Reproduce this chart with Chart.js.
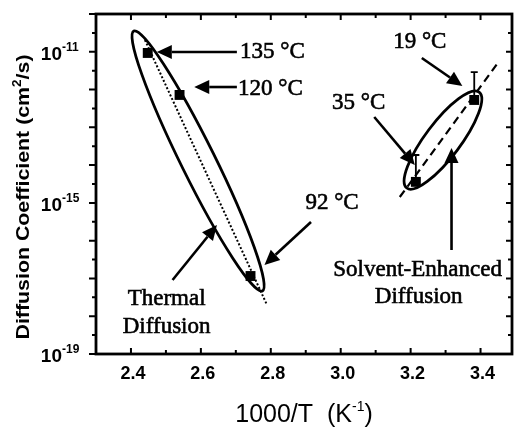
<!DOCTYPE html>
<html>
<head>
<meta charset="utf-8">
<script src="https://cdn.jsdelivr.net/npm/chart.js@4.4.1/dist/chart.umd.min.js"></script>
<style>
    html, body { margin: 0; padding: 0; background: #ffffff; }
    #wrap { width: 519px; height: 427px; }
</style>
</head>
<body>
<div id="wrap"><canvas id="diffChart" width="519" height="427"></canvas></div>
<script>
// x axis ticks (1000/T, K^-1) and y decades (log10 of D)
var xTicks = [2.4, 2.6, 2.8, 3.0, 3.2, 3.4];
var xMinorTicks = [2.3, 2.5, 2.7, 2.9, 3.1, 3.3];
var yDecades = [-19, -18, -17, -16, -15, -14, -13, -12, -11, -10];
var yLabelled = [-19, -15, -11];

// thermal diffusion points (135, 120, 92 °C)
var thermalX = [2.448, 2.539, 2.742];
var thermalD = [9.3e-12, 7.2e-13, 1.16e-17];

// solvent-enhanced points (35, 19 °C) and top of their error bars
var solventX = [3.215, 3.382];
var solventD = [3.6e-15, 5.3e-13];
var solventErrTop = [1.85e-14, 2.9e-12];

// fitted lines
var thermalFitX = [2.440, 2.788];
var thermalFitD = [2.05e-11, 2.1e-18];
var solventFitX = [3.169, 3.449];
var solventFitD = [1.43e-15, 5.0e-12];

(function () {
    'use strict';

    var BLACK = '#000000';
    var SERIF = "'Liberation Serif', 'Times New Roman', serif";
    var SANS = "'Liberation Sans', Arial, sans-serif";

    // annotation geometry in data units: [x, log10(D)]
    var ellipses = [
        { from: [2.408, -10.45], to: [2.776, -17.33], half: 17 },
        { from: [3.189, -14.606], to: [3.396, -12.065], half: 17.5 }
    ];
    var arrows = [
        { from: [2.703, -11.006], to: [2.474, -11.006] },
        { from: [2.703, -11.933], to: [2.581, -11.933] },
        { from: [2.915, -15.506], to: [2.782, -16.644] },
        { from: [3.096, -12.727], to: [3.212, -13.997] },
        { from: [3.232, -11.165], to: [3.348, -11.906] },
        { from: [2.519, -17.041], to: [2.646, -15.586] },
        { from: [3.317, -16.247], to: [3.317, -13.547] }
    ];
    var labels = [
        { text: '135 °C', at: [2.712, -11.0], align: 'left' },
        { text: '120 °C', at: [2.706, -11.986], align: 'left' },
        { text: '92 °C', at: [2.899, -15.003], align: 'left' },
        { text: '35 °C', at: [2.975, -12.356], align: 'left' },
        { text: '19 °C', at: [3.150, -10.742], align: 'left' },
        { text: 'Thermal', at: [2.502, -17.544], align: 'center' },
        { text: 'Diffusion', at: [2.502, -18.285], align: 'center' },
        { text: 'Solvent-Enhanced', at: [3.220, -16.777], align: 'center' },
        { text: 'Diffusion', at: [3.223, -17.491], align: 'center' }
    ];

    function toPoints(xs, ys) {
        return xs.map(function (x, i) { return { x: x, y: ys[i] }; });
    }

    function drawRich(ctx, parts, x, y, align) {
        var total = 0;
        parts.forEach(function (p) {
            ctx.font = p.font;
            p.w = ctx.measureText(p.t).width;
            total += p.w;
        });
        var cx = align === 'center' ? x - total / 2 : (align === 'right' ? x - total : x);
        ctx.textAlign = 'left';
        ctx.textBaseline = 'alphabetic';
        parts.forEach(function (p) {
            ctx.font = p.font;
            ctx.fillText(p.t, cx, y + (p.dy || 0));
            cx += p.w;
        });
        return total;
    }

    function arrow(ctx, a, b) {
        var ang = Math.atan2(b[1] - a[1], b[0] - a[0]);
        var len = 15, hw = 7;
        var bx = b[0] - Math.cos(ang) * len, by = b[1] - Math.sin(ang) * len;
        ctx.beginPath();
        ctx.moveTo(a[0], a[1]);
        ctx.lineTo(bx, by);
        ctx.stroke();
        ctx.beginPath();
        ctx.moveTo(b[0], b[1]);
        ctx.lineTo(bx + Math.sin(ang) * hw, by - Math.cos(ang) * hw);
        ctx.lineTo(bx - Math.sin(ang) * hw, by + Math.cos(ang) * hw);
        ctx.closePath();
        ctx.fill();
    }

    var annot = {
        id: 'annot',
        beforeDatasetsDraw: function (chart) {
            var ctx = chart.ctx, xs = chart.scales.x, ys = chart.scales.y;
            function P(v) { return [xs.getPixelForValue(v[0]), ys.getPixelForValue(Math.pow(10, v[1]))]; }

            ctx.save();
            ctx.strokeStyle = BLACK;
            ctx.lineWidth = 2.8;
            ellipses.forEach(function (e) {
                var a = P(e.from), b = P(e.to);
                var cx = (a[0] + b[0]) / 2, cy = (a[1] + b[1]) / 2;
                var r = Math.hypot(b[0] - a[0], b[1] - a[1]) / 2;
                ctx.beginPath();
                ctx.ellipse(cx, cy, r, e.half, Math.atan2(b[1] - a[1], b[0] - a[0]), 0, Math.PI * 2);
                ctx.stroke();
            });

            // upper error bars on solvent points
            ctx.lineWidth = 1.8;
            solventX.forEach(function (x, i) {
                var px = xs.getPixelForValue(x);
                var y0 = ys.getPixelForValue(solventD[i]);
                var y1 = ys.getPixelForValue(solventErrTop[i]);
                ctx.beginPath();
                ctx.moveTo(px, y0);
                ctx.lineTo(px, y1);
                ctx.moveTo(px - 3.5, y1);
                ctx.lineTo(px + 3.5, y1);
                ctx.stroke();
            });
            ctx.restore();
        },
        afterDraw: function (chart) {
            var ctx = chart.ctx, xs = chart.scales.x, ys = chart.scales.y;
            var area = chart.chartArea;
            function P(v) { return [xs.getPixelForValue(v[0]), ys.getPixelForValue(Math.pow(10, v[1]))]; }

            ctx.save();
            ctx.strokeStyle = BLACK;
            ctx.fillStyle = BLACK;

            // frame
            ctx.lineWidth = 2.8;
            ctx.strokeRect(area.left, area.top, area.right - area.left, area.bottom - area.top);

            // x ticks, bottom and top, pointing inward
            ctx.lineWidth = 2;
            ctx.beginPath();
            xTicks.forEach(function (v) {
                var px = xs.getPixelForValue(v);
                ctx.moveTo(px, area.bottom); ctx.lineTo(px, area.bottom - 6);
                ctx.moveTo(px, area.top); ctx.lineTo(px, area.top + 6);
            });
            xMinorTicks.forEach(function (v) {
                var px = xs.getPixelForValue(v);
                if (px <= area.left + 2) return;
                ctx.moveTo(px, area.bottom); ctx.lineTo(px, area.bottom - 4);
                ctx.moveTo(px, area.top); ctx.lineTo(px, area.top + 4);
            });
            // y ticks, left outward and right inward
            yDecades.forEach(function (e) {
                var py = ys.getPixelForValue(Math.pow(10, e));
                ctx.moveTo(area.left, py); ctx.lineTo(area.left - 7, py);
                ctx.moveTo(area.right, py); ctx.lineTo(area.right - 6, py);
                if (e < -10) {
                    var pm = ys.getPixelForValue(Math.pow(10, e + 0.5));
                    ctx.moveTo(area.left, pm); ctx.lineTo(area.left - 4, pm);
                    ctx.moveTo(area.right, pm); ctx.lineTo(area.right - 4, pm);
                }
            });
            ctx.stroke();

            // x tick labels
            ctx.font = 'bold 18px ' + SANS;
            ctx.textAlign = 'center';
            ctx.textBaseline = 'alphabetic';
            xTicks.forEach(function (v) {
                ctx.fillText(v.toFixed(1), xs.getPixelForValue(v) + 2, area.bottom + 25);
            });

            // y tick labels: 10 with superscript exponent
            yLabelled.forEach(function (e) {
                var py = ys.getPixelForValue(Math.pow(10, e));
                var sx = area.left - 34;
                ctx.textAlign = 'right';
                ctx.font = 'bold 19px ' + SANS;
                ctx.fillText('10', sx, py + 8);
                ctx.textAlign = 'left';
                ctx.font = 'bold 12px ' + SANS;
                ctx.fillText(String(e), sx, py - 1);
            });

            // x axis title
            drawRich(ctx, [
                { t: '1000/T  (K', font: '25px ' + SANS },
                { t: '-1', font: '14px ' + SANS, dy: -11 },
                { t: ')', font: '25px ' + SANS }
            ], (area.left + area.right) / 2, 422, 'center');

            // y axis title, rotated
            ctx.save();
            ctx.translate(29, 197);
            ctx.rotate(-Math.PI / 2);
            var yParts = [
                { t: 'Diffusion Coefficient (cm', font: 'bold 19px ' + SANS },
                { t: '2', font: 'bold 12px ' + SANS, dy: -8 },
                { t: '/s)', font: 'bold 19px ' + SANS }
            ];
            var w = 0;
            yParts.forEach(function (p) { ctx.font = p.font; w += ctx.measureText(p.t).width; });
            ctx.scale(285 / w, 1);
            drawRich(ctx, yParts, 0, 0, 'center');
            ctx.restore();

            // arrows
            ctx.lineWidth = 2.6;
            arrows.forEach(function (a) { arrow(ctx, P(a.from), P(a.to)); });

            // serif labels (slight stroke to match the heavy print)
            ctx.font = '23px ' + SERIF;
            ctx.textBaseline = 'middle';
            ctx.lineWidth = 0.6;
            labels.forEach(function (l) {
                var p = P(l.at);
                ctx.textAlign = l.align;
                ctx.fillText(l.text, p[0], p[1]);
                ctx.strokeText(l.text, p[0], p[1]);
            });
            ctx.restore();
        }
    };

    new Chart(document.getElementById('diffChart'), {
        type: 'scatter',
        data: {
            datasets: [{
                type: 'line',
                data: toPoints(thermalFitX, thermalFitD),
                borderColor: BLACK,
                borderWidth: 2,
                borderDash: [2, 2],
                pointRadius: 0,
                fill: false
            }, {
                type: 'line',
                data: toPoints(solventFitX, solventFitD),
                borderColor: BLACK,
                borderWidth: 2.2,
                borderDash: [8, 5],
                pointRadius: 0,
                fill: false
            }, {
                data: toPoints(thermalX, thermalD),
                pointStyle: 'rect',
                pointRadius: 7,
                backgroundColor: BLACK,
                borderColor: BLACK,
                borderWidth: 0
            }, {
                data: toPoints(solventX, solventD),
                pointStyle: 'rect',
                pointRadius: 7,
                backgroundColor: BLACK,
                borderColor: BLACK,
                borderWidth: 0
            }]
        },
        options: {
            responsive: false,
            animation: false,
            events: [],
            layout: { padding: { left: 96, right: 3, top: 14, bottom: 73 } },
            plugins: { legend: { display: false }, tooltip: { enabled: false } },
            scales: {
                x: { type: 'linear', min: 2.3, max: 3.49, display: false },
                y: { type: 'logarithmic', min: 1e-19, max: 1e-10, display: false }
            }
        },
        plugins: [annot]
    });
})();
</script>
</body>
</html>
